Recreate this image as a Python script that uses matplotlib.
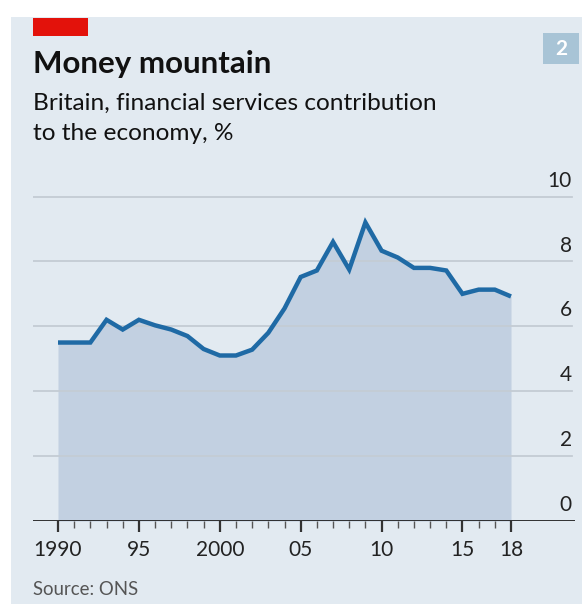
import matplotlib
matplotlib.use("Agg")
import matplotlib.pyplot as plt
from matplotlib.patches import Rectangle
import matplotlib.transforms as mtransforms

plt.rcParams['font.family'] = ['Lato', 'DejaVu Sans']

# data (annual, %)
years = list(range(1990, 2019))
share = [5.5, 5.5, 5.5, 6.2, 5.9, 6.2, 6.03, 5.9, 5.7, 5.3,
         5.1, 5.1, 5.28, 5.8, 6.55, 7.52, 7.72, 8.6, 7.75, 9.2,
         8.33, 8.12, 7.8, 7.8, 7.72, 7.0, 7.13, 7.13, 6.92]
y_ticks = [0, 2, 4, 6, 8, 10]
x_ticks = [1990, 1995, 2000, 2005, 2010, 2015, 2018]
x_labels = ['1990', '95', '2000', '05', '10', '15', '18']

W, H = 582, 604
panel = '#e2eaf1'
fill_col = '#c2d0e1'
line_col = '#1f6aa5'
grid_col = '#c4ccd4'

fig = plt.figure(figsize=(W / 100, H / 100), dpi=100)
fig.patch.set_facecolor('white')

# background panel
fig.patches.append(Rectangle((11 / W, 0), 1 - 11 / W, 1 - 17 / H,
                             transform=fig.transFigure, facecolor=panel,
                             edgecolor='none', zorder=-5))
# red tag
fig.patches.append(Rectangle((33 / W, 1 - 36 / H), 55 / W, 18 / H,
                             transform=fig.transFigure, facecolor='#e3120b',
                             edgecolor='none', zorder=-4))
# chart number box
fig.patches.append(Rectangle((543 / W, 1 - 64 / H), 36 / W, 31 / H,
                             transform=fig.transFigure, facecolor='#a8c4d6',
                             edgecolor='none', zorder=-4))
fig.text(561 / W, 1 - 49 / H, '2', color='white', fontsize=15,
         fontweight='bold', ha='center', va='center')

fig.text(33 / W, 1 - 73 / H, 'Money mountain', fontsize=22.5,
         fontweight='bold', color='#111111', ha='left', va='baseline')
fig.text(33 / W, 1 - 110 / H, 'Britain, financial services contribution',
         fontsize=17.6, color='#111111', ha='left', va='baseline')
fig.text(33 / W, 1 - 140 / H, 'to the economy, %',
         fontsize=17.6, color='#111111', ha='left', va='baseline')
fig.text(33 / W, 1 - 595 / H, 'Source: ONS', fontsize=13.4,
         color='#555555', ha='left', va='baseline')

# axes: x from 33 to 575 px, y bottom (0) at 521 px
left, right = 33, 575
bottom_px, top_px = 521, 175
ax = fig.add_axes([left / W, 1 - bottom_px / H,
                   (right - left) / W, (bottom_px - top_px) / H])
ax.set_zorder(2)
ax.set_facecolor('none')
px_per_year = (511 - 58) / 28
ax.set_xlim(1990 - (58 - left) / px_per_year, 2018 + (right - 511) / px_per_year)
px_per_unit = (521 - 196.5) / 10
ax.set_ylim(0, (bottom_px - top_px) / px_per_unit)

ax.fill_between(years, share, 0, color=fill_col, lw=0, zorder=1)
ax.plot(years, share, color=line_col, lw=3.2, solid_joinstyle='miter',
        solid_capstyle='butt', zorder=3)

for yt in y_ticks[1:]:
    ax.axhline(yt, xmin=0, xmax=(572 - left) / (right - left),
               color=grid_col, lw=1.3, zorder=2)
ax.axhline(0, color='#222222', lw=1.3, zorder=4)

trans = mtransforms.blended_transform_factory(ax.transAxes, ax.transData)
for yt in y_ticks:
    ax.text((572 - left) / (right - left), yt + 0.18, str(yt), transform=trans,
            ha='right', va='bottom', fontsize=15, color='#222222')

for s in ax.spines.values():
    s.set_visible(False)
ax.set_yticks([])
ax.set_xticks(x_ticks)
ax.set_xticklabels(x_labels, fontsize=15, color='#222222')
ax.set_xticks(years, minor=True)
ax.tick_params(axis='x', which='major', length=8, width=1.6, color='#333333',
               pad=6, direction='out')
ax.tick_params(axis='x', which='minor', length=5, width=1.0, color='#555555',
               direction='out')

fig.savefig('out.png', dpi=100, facecolor=fig.get_facecolor())
